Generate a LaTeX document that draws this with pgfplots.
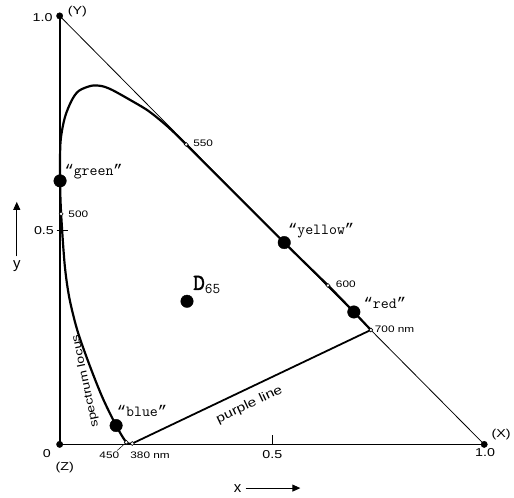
\documentclass[border=0pt]{standalone}
\usepackage{fontspec}
\setmainfont{Liberation Sans}
\newfontfamily\labfont[FakeStretch=1.25]{Liberation Sans}
\newfontfamily\typefont{Latin Modern Mono}
\newfontfamily\quotefont{Liberation Mono}
\newfontfamily\dfont[FakeBold=1.6]{Latin Modern Mono}
\newcommand{\q}[1]{{\quotefont“}#1{\quotefont”}}
\usepackage{pgfplots}
\pgfplotsset{compat=1.18}
\usetikzlibrary{arrows.meta}

\begin{document}
\begin{tikzpicture}
\begin{axis}[
  scale only axis, width=514pt, height=500pt,
  xmin=-0.1405, xmax=1.0632, ymin=-0.1230, ymax=1.0371,
  axis lines=none, clip=false,
]
% keep the full frame in the bounding box
\path[draw=none] (rel axis cs:0,0) rectangle (rel axis cs:1,1);

% triangle of the primaries
\addplot[black, line width=1.8pt] coordinates {(0,0) (0,1)};
\addplot[black, line width=1.3pt] coordinates {(0,0) (1,0)};
\addplot[black, line width=0.8pt] coordinates {(0,1) (1,0)};

% spectrum locus, 380 nm -> 700 nm
\addplot[black, line width=2.2pt, smooth, tension=0.5] coordinates {
  (0.171,0.002) (0.157,0.005) (0.133,0.044) (0.101,0.109) (0.070,0.186)
  (0.042,0.265) (0.023,0.341) (0.012,0.418) (0.0035,0.538) (0.001,0.615)
  (0.002,0.705) (0.012,0.762) (0.028,0.802) (0.045,0.825) (0.075,0.837)
  (0.100,0.836) (0.124,0.827) (0.164,0.805) (0.208,0.779) (0.246,0.749)
  (0.279,0.719) (0.298,0.700) (0.529,0.471) (0.632,0.371) (0.693,0.309)
  (0.733,0.267)
};
% purple line
\addplot[black, line width=1.8pt] coordinates {(0.171,0.002) (0.733,0.267)};

% vertices
\addplot[only marks, mark=*, mark size=3.2pt, black] coordinates {(0,1) (0,0) (1,0)};
% wavelength markers
\addplot[only marks, mark=*, mark size=2pt, black, fill=white, line width=0.6pt] coordinates {
  (0.298,0.700) (0.0035,0.538) (0.632,0.371) (0.733,0.267) (0.157,0.005) (0.171,0.002)
};
% named colours and white point
\addplot[only marks, mark=*, mark size=6.3pt, black] coordinates {
  (0.001,0.615) (0.529,0.471) (0.693,0.309) (0.133,0.044) (0.300,0.334)
};

% ticks
\draw[black, line width=0.8pt] (axis cs:-0.007,0.5) -- (axis cs:0.019,0.5);
\draw[black, line width=0.8pt] (axis cs:0.5,0) -- (axis cs:0.5,0.021);
\draw[black, line width=0.5pt] (axis cs:0.136,-0.014) -- (axis cs:0.157,0.005);

% numbers
\node[font=\labfont\fontsize{11.5}{11.5}\selectfont] at (axis cs:-0.040,0.995) {1.0};
\node[font=\labfont\fontsize{11.5}{11.5}\selectfont] at (axis cs:0.042,1.009) {(Y)};
\node[font=\labfont\fontsize{11.5}{11.5}\selectfont] at (axis cs:-0.037,0.499) {0.5};
\node[font=\labfont\fontsize{11.5}{11.5}\selectfont] at (axis cs:-0.030,-0.021) {0};
\node[font=\labfont\fontsize{11.5}{11.5}\selectfont] at (axis cs:0.012,-0.053) {(Z)};
\node[font=\labfont\fontsize{11.5}{11.5}\selectfont] at (axis cs:0.501,-0.023) {0.5};
\node[font=\labfont\fontsize{11.5}{11.5}\selectfont] at (axis cs:1.002,-0.019) {1.0};
\node[font=\labfont\fontsize{11.5}{11.5}\selectfont] at (axis cs:1.040,0.023) {(X)};

% wavelengths
\node[font=\labfont\fontsize{9.5}{9.5}\selectfont] at (axis cs:0.117,-0.026) {450};
\node[font=\labfont\fontsize{9.5}{9.5}\selectfont] at (axis cs:0.213,-0.026) {380 nm};
\node[font=\labfont\fontsize{9.5}{9.5}\selectfont] at (axis cs:0.338,0.703) {550};
\node[font=\labfont\fontsize{9.5}{9.5}\selectfont] at (axis cs:0.044,0.536) {500};
\node[font=\labfont\fontsize{9.5}{9.5}\selectfont] at (axis cs:0.674,0.374) {600};
\node[font=\labfont\fontsize{9.5}{9.5}\selectfont] at (axis cs:0.789,0.269) {700 nm};

% colour names
\node[font=\typefont\fontsize{15.5}{15.5}\selectfont] at (axis cs:0.080,0.636) {\q{green}};
\node[font=\typefont\fontsize{15.5}{15.5}\selectfont] at (axis cs:0.616,0.499) {\q{yellow}};
\node[font=\typefont\fontsize{15.5}{15.5}\selectfont] at (axis cs:0.766,0.329) {\q{red}};
\node[font=\typefont\fontsize{15.5}{15.5}\selectfont] at (axis cs:0.194,0.077) {\q{blue}};
\node[anchor=west, inner sep=0pt, font=\dfont] at (axis cs:0.314,0.372)
  {\fontsize{23}{23}\selectfont D\raisebox{-4pt}{\typefont\fontsize{15}{15}\selectfont 65}};

% curve labels
\node[font=\labfont\fontsize{11.3}{11.3}\selectfont, rotate=102] at (axis cs:0.061,0.148) {spectrum locus};
\node[font=\labfont\fontsize{12.5}{12.5}\selectfont, rotate=25.5] at (axis cs:0.447,0.092) {purple line};

% axis names
\node[font=\fontsize{15}{15}\selectfont] at (axis cs:-0.101,0.415) {y};
\draw[black, line width=0.9pt, -{Triangle[length=8pt,width=7pt]}] (axis cs:-0.101,0.439) -- (axis cs:-0.101,0.566);
\node[font=\fontsize{15}{15}\selectfont] at (axis cs:0.419,-0.104) {x};
\draw[black, line width=0.9pt, -{Triangle[length=8pt,width=7pt]}] (axis cs:0.438,-0.102) -- (axis cs:0.567,-0.102);
\end{axis}
\end{tikzpicture}
\end{document}
